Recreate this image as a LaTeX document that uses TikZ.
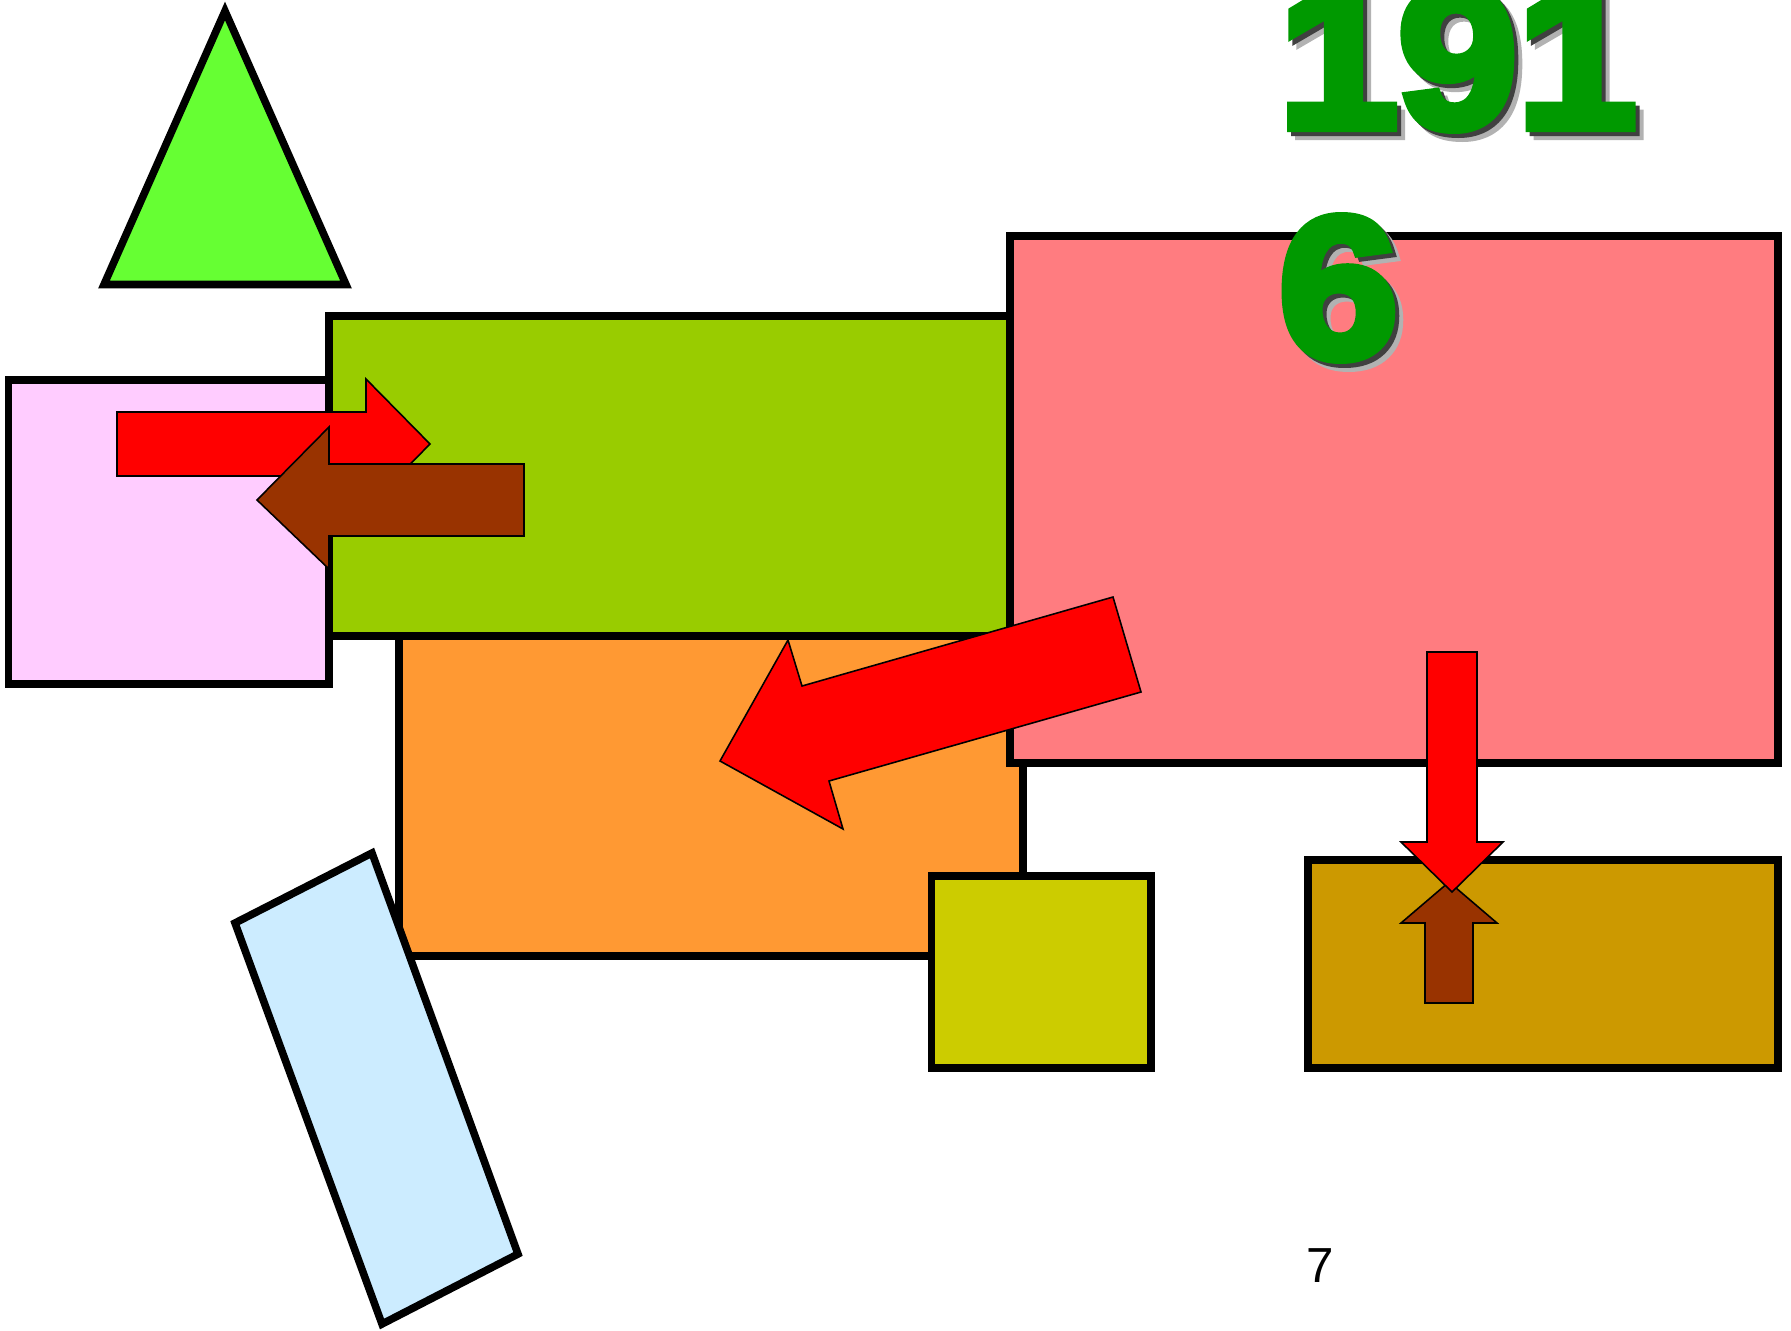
\documentclass[tikz,border=0pt]{standalone}
\usepackage{xcolor}
\usepackage{fontspec}
\usepackage{tikz}
\usetikzlibrary{calc}
\setmainfont{Liberation Sans}
\newfontfamily\yearfont{Liberation Sans Bold}[FakeBold=5, FakeStretch=1.07]
\definecolor{pinkfill}{HTML}{FFCCFF}
\definecolor{limefill}{HTML}{99CC00}
\definecolor{orangefill}{HTML}{FF9933}
\definecolor{salmonfill}{HTML}{FF7C80}
\definecolor{oliveyellow}{HTML}{CCCC00}
\definecolor{goldfill}{HTML}{CC9900}
\definecolor{skyfill}{HTML}{CCECFF}
\definecolor{leaffill}{HTML}{66FF33}
\definecolor{rustfill}{HTML}{993300}
\definecolor{yeargreen}{HTML}{009900}

\begin{document}
\begin{tikzpicture}[x=0.01cm, y=-0.01cm,
    panel/.style={draw=black, line width=2.15pt, line join=miter},
    blockarrow/.style={draw=black, line width=0.45pt, line join=miter},
    yeartext/.style={anchor=base west, inner sep=0, align=left,
                     font=\yearfont\fontsize{57pt}{65.4pt}\selectfont}]
\useasboundingbox (0,0) rectangle (1791,1330);
\draw[panel, fill=leaffill] (225,11)--(104,284.5)--(346,284.5)--cycle;
\draw[panel, fill=pinkfill] (8.5,380) rectangle (329,684);
\draw[panel, fill=limefill] (329,316) rectangle (1010,636);
\draw[panel, fill=orangefill] (399,636) rectangle (1023,956);
\draw[panel, fill=salmonfill] (1010,236) rectangle (1778,763);
\draw[panel, fill=oliveyellow] (931.5,876) rectangle (1151,1068);
\draw[panel, fill=goldfill] (1308,860) rectangle (1778,1068);
\draw[panel, fill=skyfill] (235,923)--(372,853)--(518,1254)--(382,1324)--cycle;
\draw[blockarrow, fill=red] (117,412)--(366,412)--(366,379)--(430,444)
                           --(366,509)--(366,476)--(117,476)--cycle;
\draw[blockarrow, fill=rustfill] (524,464)--(329,464)--(329,427)--(257,500)
                                --(329,569)--(329,536)--(524,536)--cycle;
\draw[blockarrow, fill=red] (1113,597)--(1141,692)--(829,781)--(843,829)
                           --(720,761)--(788,640)--(802,686)--cycle;
\draw[blockarrow, fill=rustfill] (1425,1003)--(1425,923)--(1401,923)--(1449,882)
                                --(1497,923)--(1473,923)--(1473,1003)--cycle;
\draw[blockarrow, fill=red] (1427,652)--(1477,652)--(1477,842)--(1503,842)
                           --(1452,892)--(1401,842)--(1427,842)--cycle;
\node[yeartext, black!30] (yearshadow) at (1286,365) {191\\6};
\node[yeartext, black!75] (yearshade) at (1282,361) {191\\6};
\node[yeartext, yeargreen] (year) at (1278,357) {191\\6};
\node[anchor=base west, inner sep=0, font=\fontsize{14pt}{16pt}\selectfont] (pagenum) at (1306,1282) {7};
\end{tikzpicture}
\end{document}
